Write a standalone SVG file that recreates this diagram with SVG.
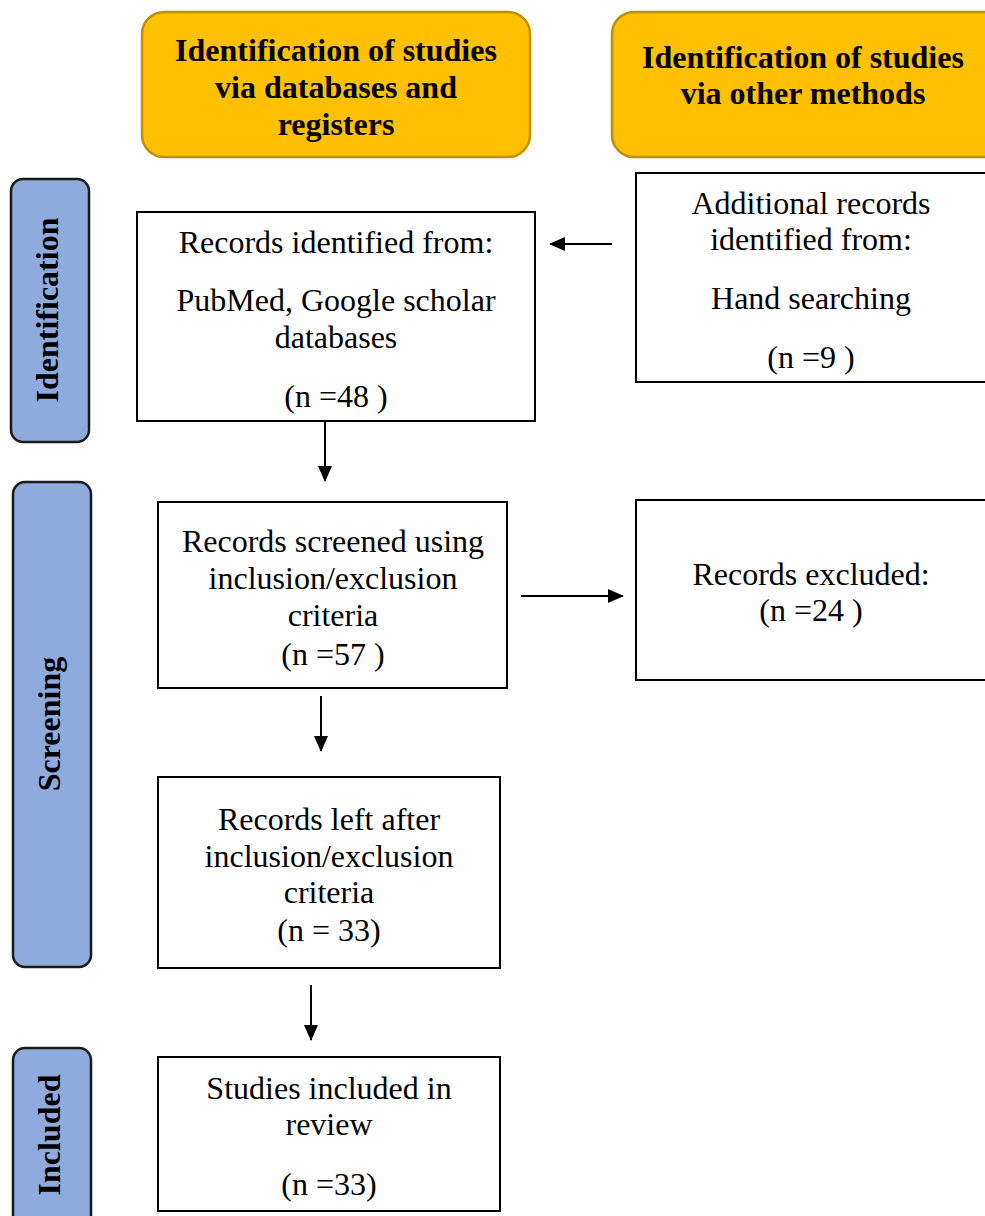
<svg xmlns="http://www.w3.org/2000/svg" width="985" height="1216" viewBox="0 0 985 1216">
<style>
.hdr{fill:#FFC000;stroke:#BF9000;stroke-width:2.5}
.side{fill:#8FAADC;stroke:#1a1a1a;stroke-width:2.5}
.box{fill:#fff;stroke:#000;stroke-width:2}
.t{font-family:"Liberation Serif","Times New Roman",serif;font-size:32px;fill:#000;text-anchor:middle}
.b{font-family:"Liberation Serif","Times New Roman",serif;font-size:32px;font-weight:bold;fill:#000;text-anchor:middle}
.s{font-family:"Liberation Serif","Times New Roman",serif;font-size:32px;font-weight:bold;fill:#000;text-anchor:middle}
.c{stroke:#000;stroke-width:2;fill:none;marker-end:url(#ah)}
</style>
<defs>
<marker id="ah" markerWidth="16" markerHeight="14" refX="15" refY="7" orient="auto" markerUnits="userSpaceOnUse">
<path d="M0,0 L16,7 L0,14 Z" fill="#000"/>
</marker>
</defs>
<rect width="985" height="1216" fill="#fff"/>
<g id="hdr-db">
<rect class="hdr" x="142" y="12" width="388" height="145" rx="22"/>
<text class="b" x="336" y="61">Identification of studies</text>
<text class="b" x="336" y="98">via databases and</text>
<text class="b" x="336" y="135">registers</text>
</g>
<g id="hdr-other">
<rect class="hdr" x="612" y="12" width="400" height="145" rx="22"/>
<text class="b" x="803" y="68">Identification of studies</text>
<text class="b" x="803" y="104">via other methods</text>
</g>
<g id="side-identification">
<rect class="side" x="11" y="179" width="78" height="263" rx="12"/>
<text class="s" transform="translate(58,310) rotate(-90)">Identification</text>
</g>
<g id="side-screening">
<rect class="side" x="13" y="482" width="78" height="485" rx="12"/>
<text class="s" transform="translate(60,724) rotate(-90)">Screening</text>
</g>
<g id="side-included">
<rect class="side" x="13" y="1048" width="78" height="190" rx="12"/>
<text class="s" transform="translate(60,1135) rotate(-90)">Included</text>
</g>
<g id="box-records">
<rect class="box" x="137" y="212" width="398" height="209"/>
<text class="t" x="336" y="253">Records identified from:</text>
<text class="t" x="336" y="311">PubMed, Google scholar</text>
<text class="t" x="336" y="348">databases</text>
<text class="t" x="336" y="407">(n =48 )</text>
</g>
<g id="box-additional">
<rect class="box" x="636" y="173" width="355" height="209"/>
<text class="t" x="811" y="214">Additional records</text>
<text class="t" x="811" y="250">identified from:</text>
<text class="t" x="811" y="309">Hand searching</text>
<text class="t" x="811" y="368">(n =9 )</text>
</g>
<g id="box-screened">
<rect class="box" x="158" y="502" width="349" height="186"/>
<text class="t" x="333" y="552">Records screened using</text>
<text class="t" x="333" y="589">inclusion/exclusion</text>
<text class="t" x="333" y="626">criteria</text>
<text class="t" x="333" y="665">(n =57 )</text>
</g>
<g id="box-excluded">
<rect class="box" x="636" y="500" width="355" height="180"/>
<text class="t" x="811" y="585">Records excluded:</text>
<text class="t" x="811" y="621">(n =24 )</text>
</g>
<g id="box-left">
<rect class="box" x="158" y="777" width="342" height="191"/>
<text class="t" x="329" y="830">Records left after</text>
<text class="t" x="329" y="867">inclusion/exclusion</text>
<text class="t" x="329" y="903">criteria</text>
<text class="t" x="329" y="941">(n = 33)</text>
</g>
<g id="box-included">
<rect class="box" x="158" y="1057" width="342" height="154"/>
<text class="t" x="329" y="1099">Studies included in</text>
<text class="t" x="329" y="1135">review</text>
<text class="t" x="329" y="1195">(n =33)</text>
</g>
<g id="connectors">
<path class="c" d="M612,244 L550,244"/>
<path class="c" d="M325,422 L325,481"/>
<path class="c" d="M521,596 L623,596"/>
<path class="c" d="M321,696 L321,751"/>
<path class="c" d="M311,985 L311,1040"/>
</g>
</svg>
